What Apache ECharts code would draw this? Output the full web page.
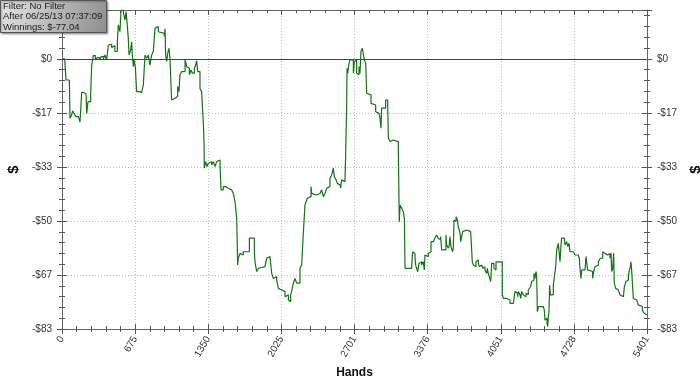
<!DOCTYPE html>
<html><head><meta charset="utf-8">
<script src="https://cdn.jsdelivr.net/npm/echarts@6/dist/echarts.min.js"></script>
<style>html,body{margin:0;padding:0;background:#fff}#c{width:700px;height:383px}</style>
</head><body><div id="c"></div>
<script>
const xTickLabels = ['0','675','1350','2025','2701','3376','4051','4728','5401'];
const yTickLabels = ['$0','-$17','-$33','-$50','-$67','-$83'];
const legendLines = ['Filter: No Filter','After 06/25/13 07:37:09','Winnings: $-77.04'];
// [hand, cumulative winnings $]
const handWinnings = [
[0,0],[25,0.5],[37,-6.5],[68,-6.8],[74,-18.3],[89,-17.3],[98,-16.0],[111,-16.8],[129,-17.8],[151,-18.3],[166,-19.5],[182,-10.3],[203,-10.9],[222,-10.3],[228,-16.8],[240,-13.2],[265,-10.6],[274,-1.9],[289,1.0],[308,-0.3],[326,0.4],[345,-0.3],[363,0.7],[382,0],[397,1.2],[412,-0.3],[428,4.3],[443,4.5],[459,3.5],[474,4.1],[489,2.3],[511,5.3],[520,10.5],[535,8.4],[545,15.1],[566,14.4],[582,12.0],[591,14.6],[600,11.5],[612,6.4],[619,1.2],[634,2.8],[643,5.3],[649,1.2],[659,-2.4],[665,-0.3],[677,-2.4],[689,-10.1],[714,-10.4],[735,-9.9],[751,-8.0],[766,1.2],[782,0.2],[797,1.2],[812,-1.9],[828,1.2],[843,2.3],[859,9.5],[874,10.0],[889,8.4],
[905,7.9],[945,6.9],[951,9.3],[957,1.2],[966,-0.8],[976,1.7],[988,3.3],[997,0.2],[1012,-12.7],[1028,-12.1],[1043,-11.6],[1068,-8.5],[1080,-10.1],[1089,-4.9],[1105,-3.9],[1136,-0.3],[1145,-1.3],[1151,-2.4],[1166,-2.9],[1176,-4.9],[1191,-3.4],[1203,-4.4],[1222,-2.9],[1234,-1.9],[1243,-0.6],[1253,-3.9],[1274,-9.1],[1289,-10.1],[1305,-19.9],[1311,-25.5],[1314,-33.7],[1326,-31.7],[1339,-33.2],[1351,-32.2],[1366,-31.7],[1382,-32.7],[1397,-31.7],[1413,-33.2],[1428,-31.7],[1443,-31.2],[1459,-32.7],[1468,-40.4],[1489,-39.4],[1511,-39.9],[1536,-39.4],[1551,-40.4],[1566,-40.9],[1582,-41.5],[1597,-44.0],[1613,-49.2],[1622,-63.6],[1628,-61.5],[1643,-60.0],[1659,-60.5],[1674,-59.5],[1696,-60.0],[1714,-59.5],[1730,-55.3],[1751,-54.8],[1766,-55.3],[1776,-59.5],
[1782,-62.6],[1797,-65.6],[1813,-64.6],[1828,-64.1],[1874,-63.6],[1890,-61.5],[1905,-61.0],[1920,-61.5],[1936,-66.2],[1951,-67.7],[1967,-67.2],[1982,-68.2],[1997,-70.8],[2013,-71.3],[2028,-71.8],[2059,-73.4],[2074,-72.8],[2090,-74.4],[2099,-74.9],[2111,-72.8],[2120,-71.8],[2136,-69.2],[2151,-67.7],[2167,-69.2],[2197,-64.6],[2213,-63.6],[2228,-53.8],[2243,-45.1],[2259,-44.5],[2265,-43.0],[2274,-42.5],[2299,-39.4],[2305,-41.5],[2320,-42.0],[2351,-41.5],[2382,-40.9],[2397,-40.4],[2413,-42.5],[2428,-41.5],[2444,-39.9],[2459,-39.4],[2474,-36.8],[2490,-35.8],[2505,-33.7],[2514,-36.3],[2530,-37.3],[2542,-38.4],[2551,-38.9],[2567,-38.4],[2573,-39.9],[2582,-37.3],[2597,-37.9],[2613,-36.8],[2619,-29.6],[2628,-14.2],[2632,-2.9],
[2638,-4.4],[2650,-1.3],[2659,-0.3],[2690,-4.4],[2699,-0.8],[2711,-0.3],[2720,-4.4],[2730,-4.9],[2742,-2.4],[2751,-4.4],[2760,2.3],[2773,3.3],[2782,2.8],[2791,-0.3],[2804,-1.3],[2813,-10.6],[2828,-11.1],[2853,-13.7],[2865,-14.2],[2896,-16.3],[2914,-16.8],[2927,-16.3],[2936,-18.3],[2945,-21.4],[2951,-15.2],[2988,-12.7],[3007,-14.7],[3013,-24.5],[3028,-25.5],[3044,-25.0],[3059,-25.5],[3105,-27.6],[3114,-50.2],[3121,-45.1],[3136,-46.1],[3151,-47.1],[3161,-49.2],[3167,-64.6],[3197,-65.1],[3213,-64.6],[3228,-65.1],[3237,-59.5],[3244,-60.0],[3259,-61.0],[3265,-63.6],[3274,-64.6],[3284,-65.6],[3296,-63.1],[3308,-62.6],[3321,-63.6],[3336,-62.6],[3345,-65.1],[3351,-60.5],[3367,-61.0],[3382,-60.0],[3391,-59.5],[3407,-56.4],[3428,-55.8],[3443,-55.3],[3459,-54.3],[3474,-55.3],[3484,-55.8],[3496,-54.8],
[3505,-58.9],[3545,-54.3],[3551,-57.4],[3567,-58.4],[3576,-57.4],[3582,-54.8],[3591,-57.9],[3607,-59.5],[3613,-58.4],[3619,-49.7],[3628,-50.2],[3638,-48.7],[3644,-48.1],[3650,-49.7],[3659,-51.7],[3675,-53.8],[3681,-56.4],[3690,-56.9],[3699,-53.3],[3712,-52.8],[3736,-53.3],[3773,-52.8],[3782,-53.3],[3788,-62.6],[3798,-63.6],[3813,-64.1],[3822,-62.6],[3828,-62.0],[3844,-63.1],[3853,-64.1],[3865,-63.6],[3875,-63.1],[3884,-64.6],[3896,-64.1],[3905,-65.1],[3921,-66.2],[3927,-64.6],[3936,-66.2],[3945,-65.6],[3952,-66.7],[3958,-68.7],[3967,-63.1],[3988,-64.6],[3998,-65.1],[4007,-62.6],[4028,-62.0],[4044,-62.6],[4065,-72.8],[4075,-73.9],[4105,-74.4],[4136,-75.4],[4167,-75.9],[4182,-71.8],[4198,-72.3],[4207,-73.4],[4213,-71.8],[4229,-72.8],[4235,-73.9],[4244,-71.8],[4259,-72.8],[4275,-73.4],[4284,-72.3],[4296,-72.8],[4305,-71.3],[4321,-71.8],[4327,-70.3],[4336,-68.7],[4345,-68.2],[4358,-66.2],[4367,-67.7],[4376,-65.6],[4382,-66.7],[4389,-78.0],[4398,-76.4],
[4444,-77.0],[4453,-77.5],[4459,-80.6],[4469,-80.0],[4478,-81.6],[4484,-82.6],[4490,-79.5],[4496,-78.0],[4502,-69.8],[4509,-72.8],[4536,-69.8],[4546,-67.2],[4558,-64.1],[4567,-59.0],[4576,-58.4],[4582,-56.9],[4589,-57.4],[4598,-62.6],[4607,-57.4],[4613,-55.3],[4638,-55.3],[4644,-57.4],[4653,-56.9],[4659,-56.4],[4669,-57.9],[4681,-56.9],[4690,-59.5],[4721,-60.0],[4736,-60.5],[4767,-61.0],[4776,-61.5],[4782,-64.6],[4792,-67.7],[4798,-65.1],[4829,-64.6],[4838,-61.0],[4853,-65.1],[4866,-65.6],[4899,-67.7],[4909,-65.6],[4921,-64.1],[4930,-64.6],[4939,-63.6],[4952,-62.6],[4970,-61.5],[4992,-59.5],[5001,-60.0],[5013,-60.5],[5038,-60.0],[5059,-61.5],[5069,-60.0],[5075,-65.6],[5084,-64.6],[5093,-60.0],[5099,-69.2],[5112,-70.8],[5130,-70.3],[5136,-71.3],[5152,-72.8],[5161,-73.4],[5183,-72.8],[5192,-70.3],[5207,-68.7],[5216,-68.2],[5229,-66.7],[5238,-66.2],[5247,-64.1],[5253,-62.6],[5259,-65.1],[5266,-65.6],[5275,-73.9],[5290,-74.4],[5306,-74.9],[5321,-75.9],[5336,-76.4],[5358,-77.5],[5376,-78.5],[5386,-79.0],[5401,-79.0]
];

const X_MAX = 5401, X_INT = 5401 / 8;
const Y_MIN = -250 / 3, Y_MAX = 15.1, Y_INT = 50 / 3;
const axisColor = '#666';
const tickColor = '#555';

function xLab(v) { const i = Math.round(v / X_INT); return (i >= 0 && i < xTickLabels.length && Math.abs(v - i * X_INT) < 0.5) ? xTickLabels[i] : ''; }
function yLab(v) { const i = Math.round(-v / Y_INT); return (i >= 0 && i < yTickLabels.length && Math.abs(v + i * Y_INT) < 0.01) ? yTickLabels[i] : ''; }

function tickX(pos, interval, offset, len) {
  return { type: 'value', min: 0, max: X_MAX, interval: interval, position: pos, offset: offset,
    axisLine: { show: false, onZero: false }, axisTick: { show: true, inside: true, length: len, lineStyle: { color: tickColor } },
    axisLabel: { show: false }, splitLine: { show: false } };
}
function tickY(pos, interval, offset, len) {
  return { type: 'value', min: Y_MIN, max: Y_MAX, interval: interval, position: pos, offset: offset,
    axisLine: { show: false, onZero: false }, axisTick: { show: true, inside: true, length: len, lineStyle: { color: tickColor } },
    axisLabel: { show: false }, splitLine: { show: false } };
}
const labelStyle = { fontFamily: 'Liberation Sans', fontSize: 10, color: '#333' };
function mainY(pos) {
  return { type: 'value', min: Y_MIN, max: Y_MAX, interval: Y_INT, position: pos,
    axisLine: { show: true, onZero: false, lineStyle: { color: axisColor } }, axisTick: { show: false },
    axisLabel: Object.assign({ formatter: yLab, margin: 10 }, labelStyle),
    splitLine: { show: pos === 'left', lineStyle: { type: [1, 2], color: '#bbb' } },
    name: '$', nameLocation: 'middle', nameGap: pos === 'left' ? 32 : 33, nameRotate: 90,
    nameTextStyle: { fontFamily: 'Liberation Sans', fontWeight: 'bold', fontSize: 15, color: '#111' } };
}

const legendTexts = legendLines.map(function (t, i) {
  return { type: 'text', x: 3, y: 1.5 + i * 10.3, z: 102, zlevel: 1,
    style: { text: t, fontFamily: 'Liberation Sans', fontSize: 9.5, verticalAlign: 'top', fill: '#1a1a1a' } };
});

const chart = echarts.init(document.getElementById('c'), null, { renderer: 'canvas' });
chart.setOption({
  animation: false,
  backgroundColor: '#fff',
  grid: { left: 62, right: 53, top: 10, bottom: 54, containLabel: false, outerBoundsMode: 'none' },
  xAxis: [
    { type: 'value', min: 0, max: X_MAX, interval: X_INT, position: 'bottom',
      axisLine: { show: true, onZero: false, lineStyle: { color: axisColor } }, axisTick: { show: false },
      axisLabel: Object.assign({ formatter: xLab, rotate: 60, margin: 8 }, labelStyle),
      splitLine: { show: true, lineStyle: { type: [1, 2], color: '#bbb' } },
      name: 'Hands', nameLocation: 'middle', nameGap: 38,
      nameTextStyle: { fontFamily: 'Liberation Sans', fontWeight: 'bold', fontSize: 12, color: '#111' } },
    tickX('bottom', X_INT, 5, 10),
    tickX('bottom', X_INT / 5, 3, 6),
    Object.assign(tickX('top', X_INT, 0, 5), { axisLine: { show: true, onZero: false, lineStyle: { color: axisColor } } }),
    tickX('top', X_INT / 5, 0, 3)
  ],
  yAxis: [
    mainY('left'),
    tickY('left', Y_INT, 5, 10),
    tickY('left', Y_INT / 5, 3, 6),
    mainY('right'),
    tickY('right', Y_INT, 5, 10),
    tickY('right', Y_INT / 5, 3, 6)
  ],
  series: [{
    type: 'line', xAxisIndex: 0, yAxisIndex: 0, step: 'end', showSymbol: false,
    data: handWinnings,
    lineStyle: { color: '#127512', width: 1.2 },
    markLine: { silent: true, symbol: ['none', 'none'], label: { show: false },
      lineStyle: { color: '#444', type: 'solid', width: 1 }, data: [{ yAxis: 0 }] },
    z: 3
  }],
  graphic: [
    { type: 'rect', left: 0, top: 0, z: 101, zlevel: 1, shape: { x: 0, y: 0, width: 106, height: 32 },
      style: { fill: new echarts.graphic.LinearGradient(0, 0, 1, 1, [{ offset: 0, color: '#e4e4e4' }, { offset: 1, color: '#8e8e8e' }]),
        stroke: '#555', lineWidth: 1, shadowBlur: 2, shadowOffsetX: 1, shadowOffsetY: 1, shadowColor: 'rgba(0,0,0,0.35)' } }
  ].concat(legendTexts.map(function (t) { return Object.assign({ left: t.x, top: t.y }, t); }))
});
</script></body></html>
